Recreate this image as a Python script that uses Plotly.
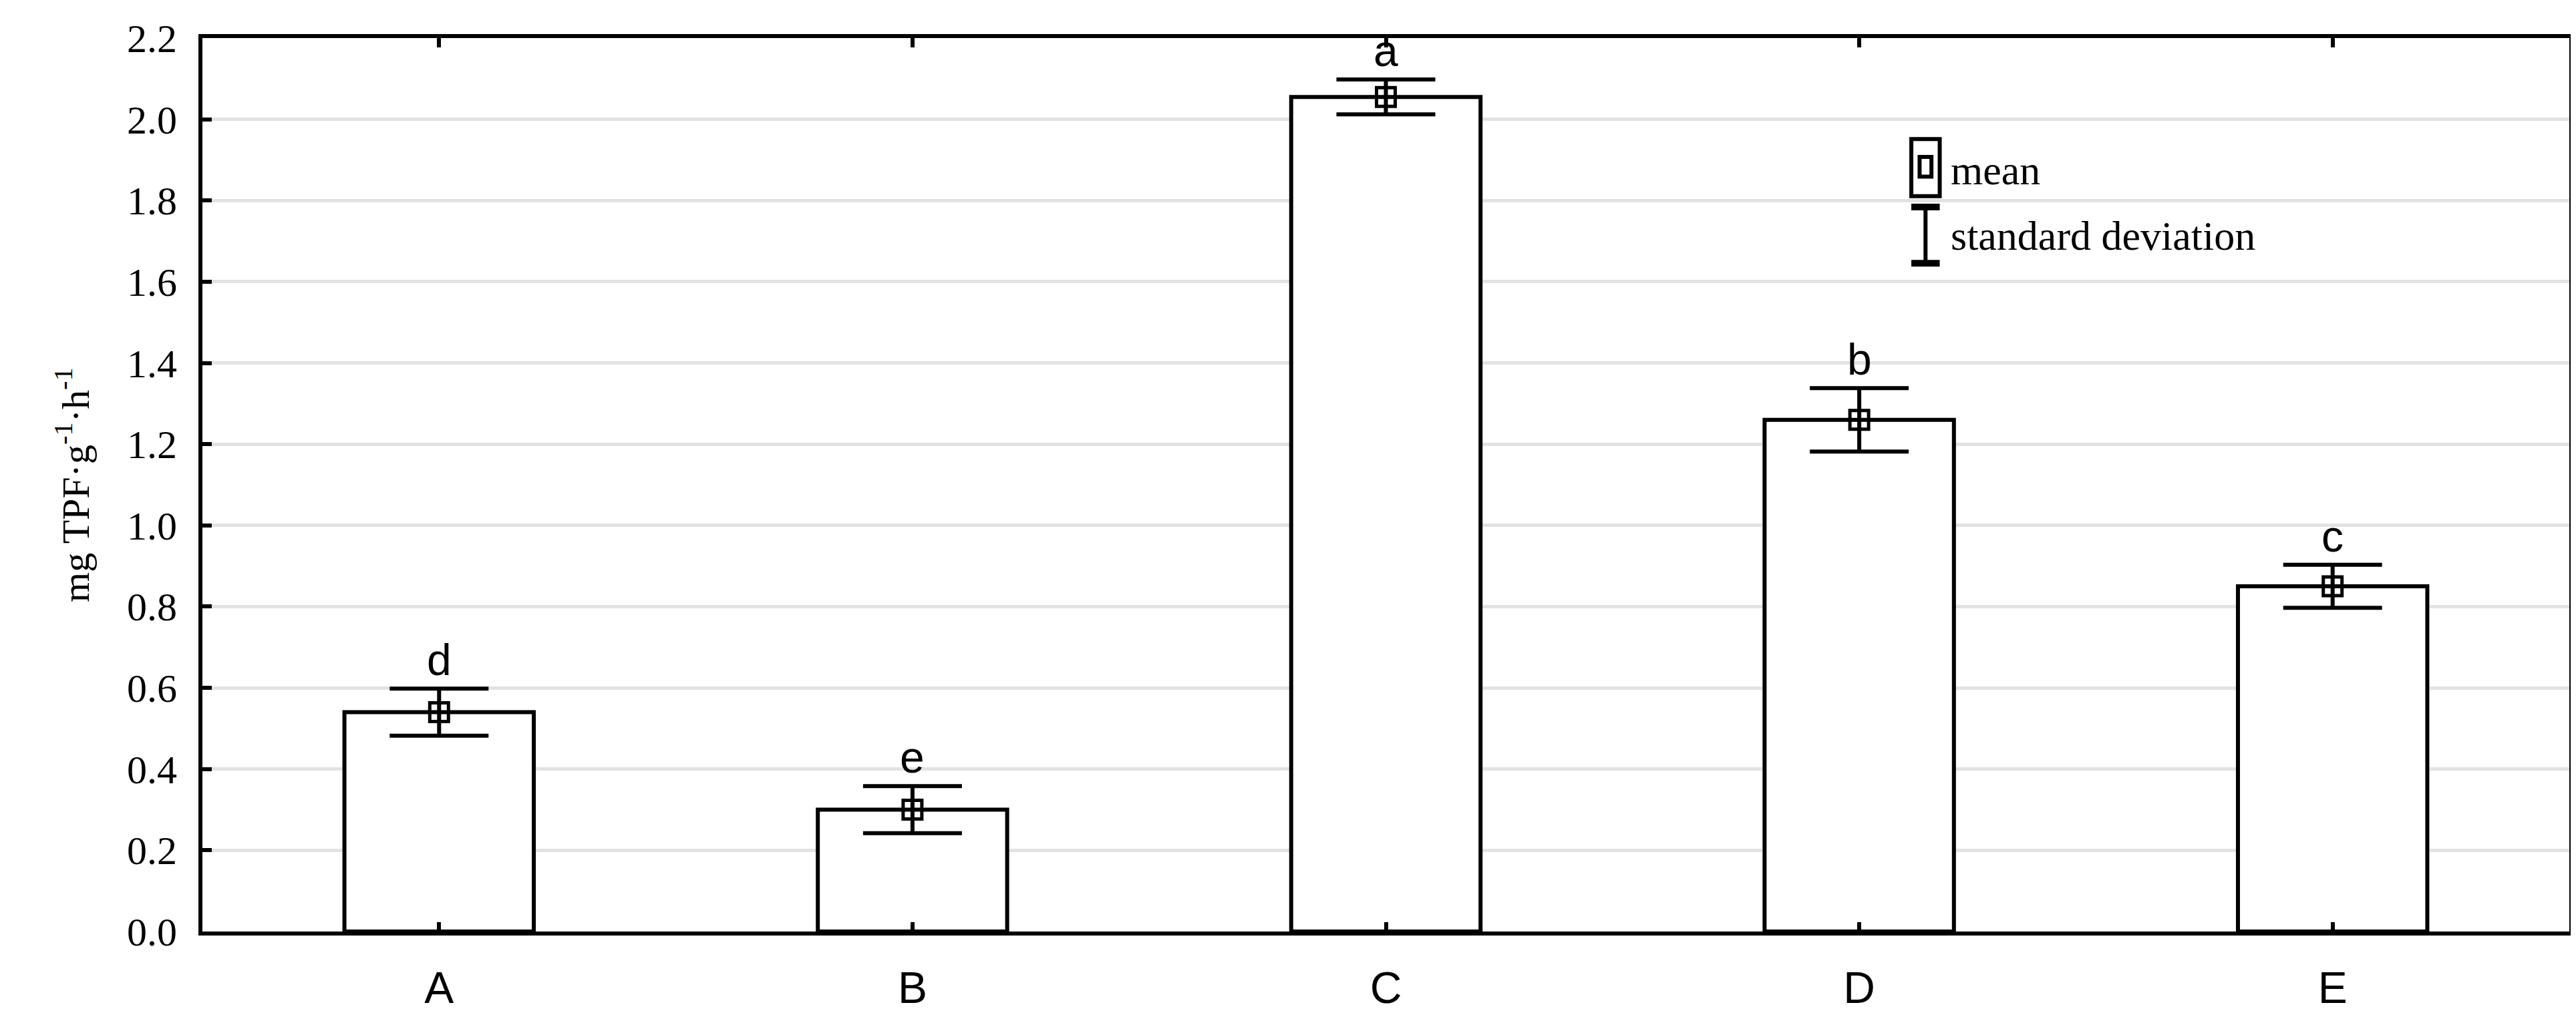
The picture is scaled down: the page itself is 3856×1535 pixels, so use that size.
import plotly.graph_objects as go

categories = ["A", "B", "C", "D", "E"]
means = [0.54, 0.30, 2.055, 1.26, 0.85]
sds = [0.058, 0.058, 0.043, 0.078, 0.053]
letters = ["d", "e", "a", "b", "c"]
yticks = [0.0, 0.2, 0.4, 0.6, 0.8, 1.0, 1.2, 1.4, 1.6, 1.8, 2.0, 2.2]

serif = "Liberation Serif"
sans = "Liberation Sans"

fig = go.Figure()
fig.add_trace(go.Bar(x=categories, y=means, width=0.4, marker=dict(color="white", line=dict(color="black", width=6)),
                     showlegend=False, hoverinfo="skip"))
fig.add_trace(go.Scatter(x=categories, y=means, mode="markers",
                         marker=dict(symbol="square-open", size=28, color="black", line=dict(width=5)),
                         error_y=dict(type="data", array=sds, color="black", thickness=6, width=74),
                         showlegend=False))
for c, m, s, l in zip(categories, means, sds, letters):
    fig.add_annotation(x=c, y=m + s, text=l, showarrow=False, yanchor="bottom", yshift=4,
                       font=dict(family=sans, size=66, color="black"))

# custom legend
line = dict(color="black", width=6)
fig.add_shape(type="rect", xref="paper", yref="paper", x0=0.722, x1=0.734, y0=0.823, y1=0.887, line=line)
fig.add_shape(type="rect", xref="paper", yref="paper", x0=0.7255, x1=0.7305, y0=0.845, y1=0.867, line=line)
fig.add_shape(type="line", xref="paper", yref="paper", x0=0.728, x1=0.728, y0=0.748, y1=0.811, line=line)
fig.add_shape(type="line", xref="paper", yref="paper", x0=0.722, x1=0.734, y0=0.811, y1=0.811, line=dict(color="black", width=10))
fig.add_shape(type="line", xref="paper", yref="paper", x0=0.722, x1=0.734, y0=0.748, y1=0.748, line=dict(color="black", width=10))
fig.add_annotation(xref="paper", yref="paper", x=0.738, y=0.852, text="mean", showarrow=False,
                   xanchor="left", yanchor="middle", font=dict(family=serif, size=62, color="black"))
fig.add_annotation(xref="paper", yref="paper", x=0.738, y=0.779, text="standard deviation", showarrow=False,
                   xanchor="left", yanchor="middle", font=dict(family=serif, size=62, color="black"))

fig.update_layout(
    width=3856, height=1535, plot_bgcolor="white", paper_bgcolor="white",
    margin=dict(l=295, r=18, t=49, b=148),
    xaxis=dict(range=[-0.5, 4.5], showline=True, linecolor="black", linewidth=6, mirror="ticks",
               ticks="inside", ticklen=14, tickwidth=6, tickcolor="black", ticklabelstandoff=22,
               tickfont=dict(family=sans, size=66, color="black"), showgrid=False),
    yaxis=dict(range=[0, 2.2], tickvals=yticks, ticktext=[f"{v:.1f}" for v in yticks],
               showline=True, linecolor="black", linewidth=6, mirror=True,
               ticks="inside", ticklen=14, tickwidth=6, tickcolor="black", ticklabelstandoff=20,
               showgrid=True, gridcolor="#e2e2e2", gridwidth=5, zeroline=False,
               tickfont=dict(family=serif, size=60, color="black"),
               title=dict(text="mg TPF·g<sup>-1</sup>·h<sup>-1</sup>", font=dict(family=serif, size=58, color="black"), standoff=40)),
)
fig.write_html("out.html")
